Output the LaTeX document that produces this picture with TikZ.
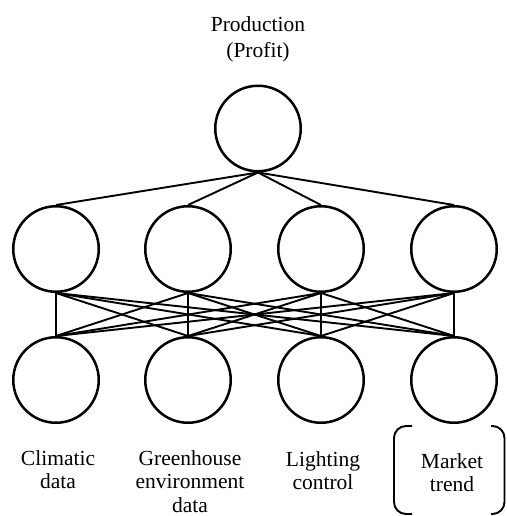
\documentclass[tikz,border=0pt]{standalone}
\usepackage{fontspec}
\setmainfont{Liberation Serif}
\begin{document}
\begin{tikzpicture}[x=1pt,y=-1pt,
  unit/.style={draw,circle,line width=2.5pt,minimum size=85.5pt,inner sep=0pt},
  link/.style={line width=1.9pt},
  lbl/.style={align=center,font=\fontsize{21.5}{23.5}\selectfont,inner sep=0pt}]
\useasboundingbox (0,0) rectangle (506,516);

\node[lbl,anchor=north,font=\fontsize{21.5}{26.5}\selectfont] (title) at (258,16) {Production\\(Profit)};
\node[unit] (out) at (258,128.5) {};

\foreach \i/\x in {1/56,2/188,3/321,4/454}{
  \node[unit] (h\i) at (\x,249) {};
  \node[unit] (in\i) at (\x,380) {};
}
\foreach \i in {1,...,4}{
  \draw[link] (out.south) -- (h\i.north);
  \foreach \j in {1,...,4}
    \draw[link] (h\i.south) -- (in\j.north);
}

\node[lbl,anchor=north] (clim) at (58,450) {Climatic\\data};
\node[lbl,anchor=north] (green) at (190,450) {Greenhouse\\environment\\data};
\node[lbl,anchor=north] (light) at (323,451) {Lighting\\control};
\node[lbl,anchor=north] (market) at (452,453) {Market\\trend};

% bracket round the market trend
\draw[link,rounded corners=12pt] (412,426) -- (394,426) -- (394,514) -- (412,514);
\draw[link,rounded corners=12pt] (491,426) -- (504.5,426) -- (504.5,514) -- (491,514);
\end{tikzpicture}
\end{document}
